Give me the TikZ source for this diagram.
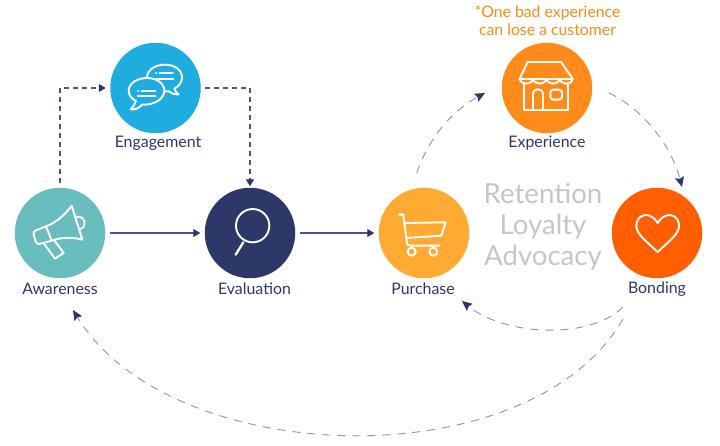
\documentclass[tikz,border=0pt]{standalone}
\usepackage{fontspec}
\setmainfont{Lato}
\usetikzlibrary{arrows.meta}
\definecolor{navy}{HTML}{2D3768}
\definecolor{cAw}{HTML}{69BDBE}
\definecolor{cEn}{HTML}{1FADE0}
\definecolor{cEv}{HTML}{2D3768}
\definecolor{cPu}{HTML}{FFAA33}
\definecolor{cEx}{HTML}{FF8C1A}
\definecolor{cBo}{HTML}{FF5F00}
\definecolor{dashc}{HTML}{8E92B0}
\definecolor{note}{HTML}{FF8A12}
\definecolor{retc}{HTML}{C6C6C6}
\tikzset{
  disc/.style={circle,minimum size=90.5pt,inner sep=0pt,outer sep=4.5pt},
  lab/.style={text=navy,font=\fontsize{15.9}{18}\selectfont,inner sep=0pt},
  icon/.style={draw=white,line width=1.9pt,line join=round,line cap=round},
  straightarrow/.style={draw=navy!85!white,line width=1.2pt,-{Triangle[length=7pt,width=8pt,color=navy]}},
  elbow/.style={draw=navy!85!white,line width=1.2pt,dash pattern=on 5pt off 4pt,-{Triangle[length=7pt,width=8pt,color=navy]}},
  sweep/.style={draw=dashc,line width=.9pt,dash pattern=on 8pt off 7pt,-{Stealth[length=10pt,width=9pt,inset=1.5pt,color=navy]}}
}
\begin{document}
\begin{tikzpicture}[x=1pt,y=-1pt]
\useasboundingbox (0,0) rectangle (720,445);
\node[disc,fill=cAw] (aw) at (60,233) {};
\node[disc,fill=cEn] (en) at (155.5,88) {};
\node[disc,fill=cEv] (ev) at (250,233) {};
\node[disc,fill=cPu] (pu) at (424,233) {};
\node[disc,fill=cEx] (ex) at (547,88) {};
\node[disc,fill=cBo] (bo) at (657,233) {};
\node[lab] (lAw) at (60,288.5) {Awareness};
\node[lab] (lEn) at (158,143) {Engagement};
\node[lab] (lEv) at (254.5,288.5) {Evaluation};
\node[lab] (lPu) at (423,288.5) {Purchase};
\node[lab] (lEx) at (547,143) {Experience};
\node[lab] (lBo) at (657,289) {Bonding};
\node[text=note,align=center,inner sep=0pt,font=\fontsize{15.8}{18}\selectfont] (noteT) at (547.5,21) {*One bad experience\\can lose a customer};
\node[text=retc,align=center,inner sep=0pt,font=\fontsize{27.6}{31}\selectfont] (ret) at (543,226.5) {Retention\\Loyalty\\Advocacy};
% connectors
\draw[straightarrow] (aw) -- (ev);
\draw[straightarrow] (ev) -- (pu);
\draw[elbow] (aw.north) |- (en.west);
\draw[elbow] (en.east) -| ([yshift=-3pt]ev.north);
\coordinate (puOut) at (416.7,173);
\coordinate (exIn) at (485,93);
\coordinate (exOut) at (609,93);
\coordinate (boIn) at (682,187);
\coordinate (boOutA) at (623,307);
\coordinate (puIn) at (462,301);
\coordinate (boOutB) at (623,319);
\coordinate (awIn) at (73,310);
\draw[sweep] (puOut) .. controls (428,140) and (450,112) .. (exIn);
\draw[sweep] (exOut) .. controls (645,110) and (672,148) .. (boIn);
\draw[sweep] (boOutA) .. controls (590,340) and (505,336) .. (puIn);
\draw[sweep] (boOutB) .. controls (530,480) and (171,470) .. (awIn);
% megaphone
\begin{scope}[shift={(20,193)},scale=1/3]
\draw[icon] (78,100) .. controls (110,88) and (135,65) .. (155,38) -- (187,140) .. controls (155,132) and (125,132) .. (95,143) -- cycle;
\draw[icon,rounded corners=3pt] (78,100) -- (38,116) -- (50,155) -- (95,143);
\draw[icon] (72,152) -- (105,197) -- (131,180) -- (103,142);
\draw[icon] (168,72) .. controls (185,65) and (198,85) .. (193,95) .. controls (190,105) and (185,108) .. (180,108);
\end{scope}
% chat bubbles
\begin{scope}[shift={(116,48)},scale=1/3]
\draw[icon] (175,122) .. controls (178,130) and (182,135) .. (188,139) .. controls (175,140) and (165,136) .. (158,130)
  .. controls (118,134) and (93,112) .. (93,88) .. controls (93,66) and (118,50) .. (147,50)
  .. controls (176,50) and (198,66) .. (198,88) .. controls (198,102) and (190,114) .. (175,122);
\draw[icon] (120,76) -- (121,76);
\draw[icon] (131,76) -- (171,76);
\draw[icon] (122,92) -- (172,92);
\draw[icon,fill=cEn] (60,159) .. controls (57,168) and (52,178) .. (44,184) .. controls (58,186) and (70,180) .. (78,170)
  .. controls (118,172) and (145,150) .. (145,128) .. controls (145,106) and (122,90) .. (93,90)
  .. controls (64,90) and (38,106) .. (38,128) .. controls (38,142) and (46,152) .. (60,159);
\draw[icon] (66,128) -- (67,128);
\draw[icon] (77,128) -- (118,128);
\draw[icon] (65,145) -- (118,145);
\end{scope}
% magnifier
\begin{scope}[shift={(210,193)},scale=1/3]
\draw[icon] (128,98) circle (50);
\draw[icon,line width=2.3pt] (100,148) -- (77,185);
\end{scope}
% cart
\begin{scope}[shift={(384,193)},scale=1/3]
\draw[icon] (44,65) -- (58,65) -- (68,145) .. controls (69,155) and (72,158) .. (80,158) -- (165,158);
\draw[icon] (60,90) -- (185,88) -- (172,128) -- (66,135);
\draw[icon] (83,176) circle (12);
\draw[icon] (148,176) circle (12);
\end{scope}
% store
\begin{scope}[shift={(507,48)},scale=1/3]
\draw[icon] (62,42) -- (162,42) -- (197,92) .. controls (194,112) and (162,112) .. (158,92)
  .. controls (155,112) and (122,112) .. (118,92) .. controls (115,112) and (82,112) .. (78,92)
  .. controls (75,112) and (41,112) .. (38,92) -- cycle;
\draw[icon] (38,92) -- (197,92);
\draw[icon] (52,104) -- (52,185) -- (182,185) -- (182,104);
\draw[icon] (78,185) -- (78,140) .. controls (78,118) and (108,118) .. (108,140) -- (108,185);
\draw[icon,rounded corners=3pt] (130,125) rectangle (165,155);
\end{scope}
% heart
\begin{scope}[shift={(617,193)},scale=1/3]
\draw[icon] (122,90) .. controls (132,72) and (148,65) .. (160,66) .. controls (178,68) and (187,85) .. (186,100)
  .. controls (185,125) and (150,150) .. (122,177) .. controls (94,150) and (59,125) .. (58,100)
  .. controls (57,85) and (66,68) .. (84,66) .. controls (96,65) and (112,72) .. (122,90) -- cycle;
\end{scope}
\end{tikzpicture}
\end{document}
